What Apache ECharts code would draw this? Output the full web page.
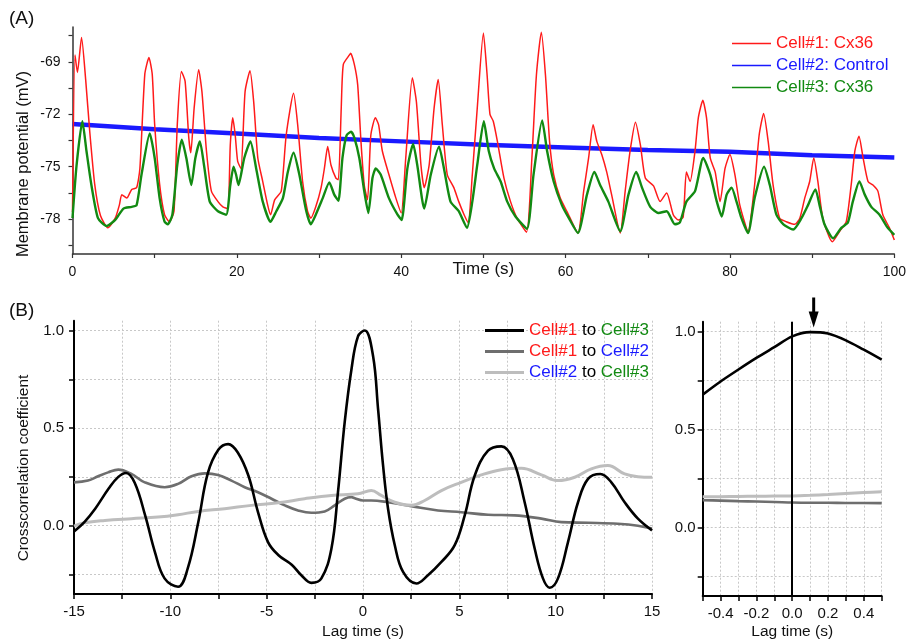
<!DOCTYPE html>
<html>
<head>
<meta charset="utf-8">
<script src="https://cdn.jsdelivr.net/npm/echarts@6/dist/echarts.min.js"></script>
<style>
  html, body { margin: 0; padding: 0; background: #fff; }
  #chart { width: 909px; height: 644px; }
</style>
</head>
<body>
<div id="chart"></div>
<script>
// (A) membrane potential traces, [time s, mV]
const cell1Trace = [[0,-77.6],[0.3,-68.6],[0.6,-69.6],[1.1,-67.6],[1.6,-70.0],[2.1,-73.0],[2.7,-76.0],[3.4,-77.8],[4.3,-78.5],[5.2,-77.95],[5.7,-77.2],[6.0,-76.6],[6.6,-76.8],[7.2,-76.3],[7.8,-76.2],[8.2,-75.1],[8.8,-69.7],[9.3,-68.75],[9.7,-69.7],[10.0,-72.6],[10.6,-76.0],[11.2,-77.75],[11.8,-78.15],[12.35,-77.55],[12.75,-72.6],[13.25,-69.55],[13.7,-70.1],[14.15,-73.35],[14.4,-74.2],[14.8,-71.65],[15.35,-69.45],[15.75,-70.7],[16.3,-74.1],[16.9,-76.4],[17.7,-77.0],[18.3,-77.3],[18.9,-77.4],[19.2,-73.75],[19.5,-72.2],[19.8,-73.2],[20.1,-74.7],[20.5,-75.1],[21.0,-70.7],[21.6,-69.5],[22.05,-71.3],[22.55,-74.5],[23.15,-75.85],[23.75,-77.2],[24.1,-77.75],[24.6,-76.9],[25.4,-76.4],[26.0,-73.2],[26.9,-70.8],[27.4,-72.6],[28.0,-75.85],[28.6,-77.55],[29.0,-77.95],[29.6,-77.3],[30.25,-76.2],[30.65,-75.1],[31.05,-73.85],[31.45,-74.9],[32.05,-75.65],[32.35,-75.75],[32.7,-71.65],[32.95,-69.15],[33.7,-68.6],[33.85,-68.5],[34.3,-69.15],[34.7,-70.3],[35.1,-73.55],[35.5,-76.05],[35.9,-76.9],[36.3,-73.2],[36.85,-72.2],[37.25,-72.6],[37.7,-74.1],[38.5,-75.45],[39.35,-76.8],[40.0,-77.65],[40.55,-74.5],[41.35,-69.9],[41.85,-71.3],[42.4,-74.9],[42.8,-76.2],[43.4,-74.9],[44.0,-71.65],[44.5,-70.0],[45.0,-72.6],[45.6,-75.45],[46.4,-76.2],[47.0,-77.0],[47.65,-77.75],[48.15,-78.2],[48.65,-75.45],[49.25,-71.65],[50.0,-67.35],[50.45,-69.75],[50.8,-72.0],[51.2,-72.4],[51.7,-73.55],[52.5,-75.65],[53.3,-77.0],[54.1,-77.95],[55.25,-78.75],[55.9,-74.5],[56.45,-69.75],[57.05,-67.3],[57.55,-69.75],[58.05,-73.55],[58.55,-75.45],[59.35,-76.8],[60.15,-77.55],[61.5,-78.8],[62.2,-76.4],[62.8,-74.5],[63.35,-72.6],[63.8,-73.55],[64.4,-74.3],[65.0,-75.3],[65.6,-76.6],[66.65,-78.8],[67.25,-76.4],[67.85,-74.1],[68.5,-72.45],[69.1,-73.75],[69.7,-75.65],[70.7,-76.1],[71.5,-77.0],[72.3,-76.5],[73.1,-77.75],[73.7,-78.05],[74.3,-77.9],[74.7,-75.3],[75.15,-75.85],[75.75,-74.1],[76.15,-72.2],[76.7,-71.2],[77.15,-72.2],[77.6,-74.5],[78.2,-75.3],[78.8,-77.0],[79.4,-75.1],[80.0,-74.3],[80.6,-75.45],[81.2,-77.2],[82.2,-78.7],[83.0,-76.05],[83.55,-73.2],[84.1,-71.95],[84.65,-73.55],[85.25,-76.05],[86.05,-77.95],[86.85,-78.15],[87.9,-78.3],[88.5,-77.95],[89.1,-76.8],[89.7,-75.85],[90.2,-74.5],[90.7,-75.85],[91.3,-77.95],[92.45,-79.3],[93.35,-78.7],[94.15,-78.15],[94.75,-76.05],[95.2,-74.1],[95.7,-73.25],[96.2,-74.5],[96.8,-75.85],[97.4,-76.05],[98.0,-76.4],[98.6,-77.75],[99.4,-78.5],[100,-79.2]];
const cell2Trace = [[0,-72.55],[10,-72.85],[20,-73.1],[30,-73.35],[40,-73.55],[50,-73.75],[60,-73.9],[70,-74.05],[80,-74.15],[90,-74.35],[100,-74.47]];
const cell3Trace = [[0,-77.95],[0.5,-74.9],[1.2,-72.4],[1.7,-74.1],[2.3,-76.05],[3.1,-77.95],[4.15,-78.4],[5.2,-78.05],[6.2,-77.4],[7.2,-77.3],[7.8,-77.2],[8.4,-75.45],[9.4,-73.1],[10.0,-74.5],[10.6,-76.8],[11.2,-78.15],[11.6,-78.3],[12.15,-77.75],[12.75,-74.9],[13.3,-73.45],[13.85,-74.5],[14.45,-76.05],[14.95,-74.5],[15.5,-73.55],[16.0,-74.9],[16.7,-77.0],[17.7,-77.55],[18.7,-77.75],[19.2,-76.05],[19.6,-75.0],[19.9,-75.45],[20.2,-76.05],[20.9,-74.5],[21.65,-73.55],[22.35,-75.1],[23.15,-77.0],[24.1,-78.15],[24.8,-77.55],[25.6,-76.8],[26.2,-75.3],[26.9,-74.2],[27.6,-75.45],[28.4,-77.45],[29.0,-78.3],[29.6,-77.75],[30.45,-76.8],[31.25,-75.9],[31.85,-76.6],[32.35,-76.95],[32.85,-74.5],[33.35,-73.2],[33.9,-73.0],[34.3,-73.35],[34.9,-74.5],[35.5,-76.4],[36.0,-77.65],[36.5,-75.65],[36.9,-75.1],[37.5,-75.45],[38.5,-76.8],[39.55,-77.75],[40.05,-78.05],[40.75,-75.1],[41.45,-73.7],[41.95,-74.9],[42.8,-77.4],[43.6,-75.45],[44.6,-73.85],[45.2,-75.1],[46.0,-77.0],[47.0,-77.55],[48.0,-78.5],[48.65,-77.0],[49.25,-74.9],[50.05,-72.4],[50.65,-74.1],[51.3,-75.1],[52.1,-75.85],[52.9,-77.0],[53.9,-77.85],[55.3,-78.55],[56.1,-75.45],[57.15,-72.35],[57.75,-74.1],[58.55,-75.85],[59.55,-77.2],[60.4,-77.95],[61.5,-78.8],[62.6,-76.6],[63.5,-75.3],[64.2,-76.05],[65.2,-77.0],[66.65,-78.7],[67.65,-76.6],[68.6,-75.3],[69.3,-76.2],[70.3,-77.3],[71.3,-77.65],[72.3,-77.55],[73.3,-78.3],[73.9,-78.2],[74.7,-77.0],[75.75,-76.4],[76.75,-74.5],[77.6,-75.45],[78.4,-77.0],[79.0,-77.85],[79.6,-76.6],[80.2,-76.2],[80.8,-77.0],[81.4,-77.95],[82.2,-78.8],[83.0,-76.8],[84.15,-75.0],[84.85,-76.05],[85.65,-77.75],[86.5,-78.3],[87.7,-78.6],[88.7,-77.95],[89.5,-77.2],[90.4,-76.3],[90.9,-77.2],[91.5,-78.3],[92.55,-79.1],[93.55,-78.5],[94.35,-78.2],[94.95,-77.0],[95.75,-75.85],[96.4,-76.6],[97.2,-77.3],[98.2,-77.75],[99.2,-78.5],[100,-78.9]];

// (B) crosscorrelation, [lag s, coefficient]
const corr13 = [[-15,-0.03],[-14.45,0.02],[-13.9,0.087],[-13.2,0.19],[-12.7,0.25],[-12.3,0.27],[-11.85,0.22],[-11.3,0.05],[-10.8,-0.135],[-10.3,-0.27],[-9.6,-0.313],[-9.1,-0.22],[-8.55,0.018],[-8.05,0.27],[-7.5,0.39],[-7.0,0.418],[-6.5,0.375],[-5.95,0.257],[-5.45,0.07],[-4.93,-0.084],[-4.4,-0.15],[-3.7,-0.2],[-3.2,-0.254],[-2.68,-0.293],[-2.16,-0.27],[-1.64,-0.118],[-1.3,0.17],[-0.95,0.53],[-0.6,0.8],[-0.26,0.97],[0.09,1.0],[0.52,0.87],[0.78,0.6],[1.04,0.31],[1.3,0.087],[1.65,-0.1],[2.08,-0.237],[2.77,-0.296],[3.37,-0.254],[4.07,-0.186],[4.76,-0.1],[5.28,0.053],[5.8,0.257],[6.49,0.384],[7.18,0.406],[7.78,0.34],[8.39,0.12],[8.91,-0.117],[9.34,-0.27],[9.69,-0.318],[10.12,-0.27],[10.64,-0.084],[11.16,0.12],[11.68,0.24],[12.32,0.265],[12.89,0.222],[13.58,0.12],[14.27,0.036],[15,-0.024]];
const corr12 = [[-15,0.222],[-14.27,0.231],[-13.75,0.253],[-13.23,0.273],[-12.7,0.287],[-12.02,0.265],[-11.33,0.222],[-10.29,0.197],[-9.6,0.214],[-8.9,0.253],[-8.21,0.268],[-7.52,0.26],[-6.83,0.231],[-6.14,0.197],[-5.45,0.171],[-4.75,0.138],[-4.06,0.104],[-3.37,0.078],[-2.68,0.066],[-1.99,0.073],[-1.47,0.104],[-0.95,0.138],[-0.6,0.146],[-0.43,0.141],[0,0.129],[0.43,0.129],[1.3,0.12],[2.51,0.1],[3.89,0.078],[5.1,0.069],[6.49,0.056],[7.87,0.053],[9.26,0.036],[10.3,0.018],[11.68,0.015],[13.23,0.01],[14.27,0.0],[15,-0.015]];
const corr23 = [[-15,-0.002],[-14.45,0.015],[-13.4,0.027],[-12.02,0.036],[-10.64,0.044],[-9.6,0.056],[-8.56,0.073],[-7.18,0.087],[-5.79,0.104],[-4.41,0.117],[-3.03,0.138],[-1.64,0.155],[-0.26,0.163],[0.43,0.18],[0.95,0.155],[1.65,0.12],[2.51,0.104],[3.2,0.129],[4.07,0.18],[5.1,0.222],[6.14,0.26],[7.18,0.287],[8.22,0.294],[9.26,0.26],[10.12,0.231],[10.99,0.248],[11.85,0.291],[12.71,0.308],[13.58,0.265],[14.27,0.251],[15,0.248]];

// zoomed panel around lag 0
const zoomLag = [-0.5,-0.4,-0.3,-0.2,-0.1,0,0.1,0.2,0.3,0.4,0.5];
const zoom13 = [0.678,0.745,0.806,0.865,0.92,0.975,0.997,0.99,0.955,0.907,0.857];
const zoom12 = [0.139,0.137,0.134,0.132,0.13,0.127,0.126,0.126,0.125,0.125,0.124];
const zoom23 = [0.156,0.157,0.158,0.159,0.16,0.161,0.164,0.168,0.173,0.178,0.182];
const peakLag = 0.12;

const potentialLabels = [-78, -75, -72, -69];
const potentialTicks = [-79.5, -78, -76.5, -75, -73.5, -72, -70.5, -69, -67.5];
const coeffLabels = [0, 0.5, 1.0];
const coeffTicks = [-0.25, 0, 0.25, 0.5, 0.75, 1.0];

const font = "'Liberation Sans', Arial, sans-serif";
const cellColor = { 'Cell#1': '#ff1a1a', 'Cell#2': '#1a1aff', 'Cell#3': '#128a12' };
const pairColor = { '13': '#000000', '12': '#6e6e6e', '23': '#bdbdbd' };
const thinIcon = 'path://M0,0L39,0L39,1.4L0,1.4Z';
const thickIcon = 'path://M0,0L39,0L39,2.8L0,2.8Z';

const zoomPairs = (vals) => zoomLag.map((x, i) => [x, vals[i]]);
const dotted = { show: true, lineStyle: { color: '#c8c8c8', type: [2, 2], width: 1 } };
const blackAxis = { onZero: false, lineStyle: { color: '#000', width: 2 } };
const blackTick = { inside: false, length: 5, lineStyle: { color: '#000', width: 1.5 } };
const bottomLabel = { fontFamily: font, fontSize: 15, color: '#111', margin: 10 };
const bottomName = { fontFamily: font, fontSize: 15.5, color: '#111' };

const chart = echarts.init(document.getElementById('chart'), null, { renderer: 'canvas' });

const option = {
    animation: false,
    backgroundColor: '#fff',
    grid: [
        { left: 72.5, top: 27, width: 824, height: 227 },
        { left: 74, top: 320.7, width: 578, height: 273.3 },
        { left: 702.7, top: 321.7, width: 179, height: 274.3 }
    ],
    legend: [
        {
            orient: 'vertical', left: 727, top: 30,
            itemWidth: 39, itemHeight: 17, itemGap: 5,
            icon: thinIcon,
            textStyle: { fontFamily: font, fontSize: 17 },
            data: [
                { name: 'Cell#1: Cx36', textStyle: { color: cellColor['Cell#1'] } },
                { name: 'Cell#2: Control', textStyle: { color: cellColor['Cell#2'] } },
                { name: 'Cell#3: Cx36', textStyle: { color: cellColor['Cell#3'] } }
            ]
        },
        {
            orient: 'vertical', left: 480, top: 317,
            itemWidth: 39, itemHeight: 17, itemGap: 4,
            icon: thickIcon,
            textStyle: {
                fontFamily: font, fontSize: 17,
                rich: {
                    c1: { color: cellColor['Cell#1'], fontSize: 17, fontFamily: font },
                    c2: { color: cellColor['Cell#2'], fontSize: 17, fontFamily: font },
                    c3: { color: cellColor['Cell#3'], fontSize: 17, fontFamily: font },
                    k: { color: '#000', fontSize: 17, fontFamily: font }
                }
            },
            formatter: (name) => {
                const [a, b] = name.split(' to ');
                return '{c' + a.slice(-1) + '|' + a + '}{k| to }{c' + b.slice(-1) + '|' + b + '}';
            },
            data: ['Cell#1 to Cell#3', 'Cell#1 to Cell#2', 'Cell#2 to Cell#3']
        }
    ],
    xAxis: [
        {
            gridIndex: 0, type: 'value', min: 0, max: 100, interval: 10,
            axisLine: { onZero: false, lineStyle: { color: '#333', width: 1.5 } },
            axisTick: { inside: false, length: 4, lineStyle: { color: '#333', width: 1.2 } },
            axisLabel: { fontFamily: font, fontSize: 14, color: '#111', margin: 11, formatter: (v) => (v % 20 === 0 ? String(v) : '') },
            splitLine: { show: false },
            name: 'Time (s)', nameLocation: 'middle', nameGap: 7, nameMoveOverlap: false,
            nameTextStyle: { fontFamily: font, fontSize: 17, color: '#111' }
        },
        {
            gridIndex: 1, type: 'value', min: -15, max: 15, interval: 2.5,
            axisLine: blackAxis, axisTick: blackTick,
            axisLabel: Object.assign({ formatter: (v) => (v % 5 === 0 ? String(v) : '') }, bottomLabel),
            splitLine: dotted,
            name: 'Lag time (s)', nameLocation: 'middle', nameGap: 30, nameMoveOverlap: false,
            nameTextStyle: bottomName
        },
        {
            gridIndex: 2, type: 'value', min: -0.5, max: 0.5, interval: 0.1,
            axisLine: blackAxis, axisTick: blackTick,
            axisLabel: Object.assign({ formatter: (v) => (Math.round(v * 10) % 2 === 0 ? v.toFixed(1) : '') }, bottomLabel),
            splitLine: dotted,
            name: 'Lag time (s)', nameLocation: 'middle', nameGap: 28, nameMoveOverlap: false,
            nameTextStyle: bottomName
        }
    ],
    yAxis: [
        {
            gridIndex: 0, type: 'value', min: -80, max: -67,
            axisLine: { show: true, onZero: false, lineStyle: { color: '#333', width: 1.5 } },
            axisTick: { show: true, inside: false, length: 4, customValues: potentialTicks, lineStyle: { color: '#333', width: 1.2 } },
            axisLabel: { fontFamily: font, fontSize: 14, color: '#111', margin: 12, customValues: potentialLabels },
            splitLine: { show: false }
        },
        {
            gridIndex: 1, type: 'value', min: -0.35, max: 1.05,
            axisLine: Object.assign({ show: true }, blackAxis),
            axisTick: Object.assign({ show: true, customValues: coeffTicks }, blackTick),
            axisLabel: Object.assign({ customValues: coeffLabels, formatter: (v) => v.toFixed(1) }, bottomLabel),
            splitLine: dotted
        },
        {
            gridIndex: 2, type: 'value', min: -0.35, max: 1.05,
            axisLine: Object.assign({ show: true }, blackAxis),
            axisTick: Object.assign({ show: true, customValues: coeffTicks }, blackTick),
            axisLabel: Object.assign({ customValues: coeffLabels, formatter: (v) => v.toFixed(1) }, bottomLabel, { margin: 7 }),
            splitLine: dotted
        }
    ],
    series: [
        { name: 'Cell#2: Control', type: 'line', xAxisIndex: 0, yAxisIndex: 0, data: cell2Trace, symbol: 'none',
          color: cellColor['Cell#2'], lineStyle: { width: 4.5 } },
        { name: 'Cell#1: Cx36', type: 'line', xAxisIndex: 0, yAxisIndex: 0, data: cell1Trace, symbol: 'none', smooth: 0.2,
          color: cellColor['Cell#1'], lineStyle: { width: 1.5 } },
        { name: 'Cell#3: Cx36', type: 'line', xAxisIndex: 0, yAxisIndex: 0, data: cell3Trace, symbol: 'none', smooth: 0.2,
          color: cellColor['Cell#3'], lineStyle: { width: 2.4 } },

        { name: 'Cell#1 to Cell#2', type: 'line', xAxisIndex: 1, yAxisIndex: 1, data: corr12, symbol: 'none', smooth: 0.4,
          color: pairColor['12'], lineStyle: { width: 2.6 } },
        { name: 'Cell#2 to Cell#3', type: 'line', xAxisIndex: 1, yAxisIndex: 1, data: corr23, symbol: 'none', smooth: 0.4,
          color: pairColor['23'], lineStyle: { width: 3 } },
        { name: 'Cell#1 to Cell#3', type: 'line', xAxisIndex: 1, yAxisIndex: 1, data: corr13, symbol: 'none', smooth: 0.4,
          color: pairColor['13'], lineStyle: { width: 2.6 } },

        { name: 'Cell#1 to Cell#2', type: 'line', xAxisIndex: 2, yAxisIndex: 2, data: zoomPairs(zoom12), symbol: 'none', smooth: 0.3,
          color: pairColor['12'], lineStyle: { width: 2.6 } },
        { name: 'Cell#2 to Cell#3', type: 'line', xAxisIndex: 2, yAxisIndex: 2, data: zoomPairs(zoom23), symbol: 'none', smooth: 0.3,
          color: pairColor['23'], lineStyle: { width: 3 } },
        { name: 'Cell#1 to Cell#3', type: 'line', xAxisIndex: 2, yAxisIndex: 2, data: zoomPairs(zoom13), symbol: 'none', smooth: 0.3,
          color: pairColor['13'], lineStyle: { width: 2.6 },
          markLine: { silent: true, symbol: 'none', label: { show: false },
                      lineStyle: { color: '#000', width: 2, type: 'solid' }, data: [{ xAxis: 0 }] } }
    ]
};

chart.setOption(option);

// panel letters, rotated axis titles and the arrow marking the zoomed peak
const tip = chart.convertToPixel({ xAxisIndex: 2, yAxisIndex: 2 }, [peakLag, 1.0]);
const ax = tip[0];
const ay = tip[1] - 4;
chart.setOption({
    graphic: [
        { id: 'labelA', type: 'text', left: 9, top: 9, style: { text: '(A)', fontFamily: font, fontSize: 19, fill: '#111' } },
        { id: 'labelB', type: 'text', left: 9, top: 301, style: { text: '(B)', fontFamily: font, fontSize: 19, fill: '#111' } },
        { id: 'nameA', type: 'text', x: 23, y: 164, rotation: Math.PI / 2,
          style: { text: 'Membrane potential (mV)', fontFamily: font, fontSize: 16.5, fill: '#111', align: 'center', verticalAlign: 'middle' } },
        { id: 'nameB', type: 'text', x: 24, y: 468, rotation: Math.PI / 2,
          style: { text: 'Crosscorrelation coefficient', fontFamily: font, fontSize: 15.5, fill: '#111', align: 'center', verticalAlign: 'middle' } },
        { id: 'arrowShaft', type: 'line', shape: { x1: ax, y1: ay - 30, x2: ax, y2: ay - 12 }, style: { stroke: '#000', lineWidth: 3 } },
        { id: 'arrowHead', type: 'polygon', shape: { points: [[ax - 5, ay - 16], [ax + 5, ay - 16], [ax, ay]] }, style: { fill: '#000' } }
    ]
});
</script>
</body>
</html>
